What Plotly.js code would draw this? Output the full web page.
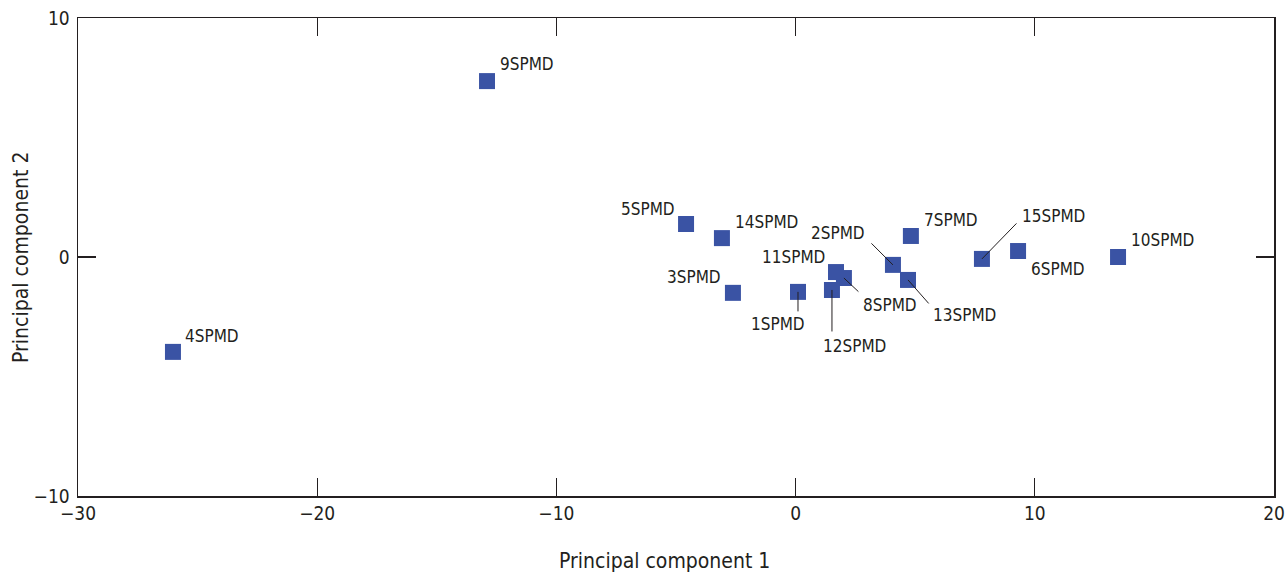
<!DOCTYPE html>
<html>
<head>
<meta charset="utf-8">
<script src="https://cdn.plot.ly/plotly-3.0.1.min.js"></script>
<style>html,body{margin:0;padding:0;background:#fff;}#chart{width:1288px;height:573px;}</style>
</head>
<body>
<div id="chart"></div>
<script>
// Data
const sites = ['1SPMD','2SPMD','3SPMD','4SPMD','5SPMD','6SPMD','7SPMD','8SPMD','9SPMD','10SPMD','11SPMD','12SPMD','13SPMD','14SPMD','15SPMD'];
const pc1 = [0.1, 4.07, -2.62, -26.03, -4.58, 9.3, 4.82, 2.02, -12.9, 13.48, 1.69, 1.52, 4.7, -3.08, 7.79];
const pc2 = [-1.46, -0.33, -1.5, -3.97, 1.38, 0.25, 0.88, -0.88, 7.36, 0.0, -0.63, -1.38, -0.96, 0.79, -0.08];
const xTicks = [-30, -20, -10, 0, 10, 20];
const yTicks = [-10, 0, 10];
const xTitle = 'Principal component 1';
const yTitle = 'Principal component 2';

// Label placement (pixels): xanchor, xshift, yshift, optional leader line [ax, ay]
const labelStyle = {
  '1SPMD':  {anchor:'center', dx:-20, dy:-32, line:[0, 21]},
  '2SPMD':  {anchor:'right',  dx:-26, dy:32,  line:[-23, -23]},
  '3SPMD':  {anchor:'right',  dx:-10, dy:16},
  '4SPMD':  {anchor:'left',   dx:10,  dy:16},
  '5SPMD':  {anchor:'right',  dx:-9,  dy:15},
  '6SPMD':  {anchor:'left',   dx:11,  dy:-18},
  '7SPMD':  {anchor:'left',   dx:11,  dy:16},
  '8SPMD':  {anchor:'center', dx:46,  dy:-27, line:[16, 15]},
  '9SPMD':  {anchor:'left',   dx:11,  dy:17},
  '10SPMD': {anchor:'left',   dx:11,  dy:17},
  '11SPMD': {anchor:'right',  dx:-9,  dy:15},
  '12SPMD': {anchor:'center', dx:23,  dy:-56, line:[0, 43]},
  '13SPMD': {anchor:'center', dx:56,  dy:-35, line:[22, 25]},
  '14SPMD': {anchor:'left',   dx:11,  dy:16},
  '15SPMD': {anchor:'left',   dx:38,  dy:43,  line:[36, -37]}
};

const FONT = '"Liberation Sans Narrow", "Arial Narrow", "DejaVu Sans Condensed", sans-serif';
const INK = '#231f20';

const annotations = [];
sites.forEach((s, i) => {
  const st = labelStyle[s];
  if (st.line) {
    annotations.push({
      x: pc1[i], y: pc2[i], xref:'x', yref:'y', text:'',
      showarrow:true, arrowhead:0, arrowwidth:1, arrowcolor:INK,
      ax: st.line[0], ay: st.line[1], standoff:0
    });
  }
  annotations.push({
    x: pc1[i], y: pc2[i], xref:'x', yref:'y', text:s,
    showarrow:false, xanchor:st.anchor, yanchor:'middle',
    xshift:st.dx, yshift:st.dy,
    font:{family:FONT, size:17, color:INK}
  });
});

// Axis titles, placed as in the original
annotations.push({
  xref:'paper', yref:'paper', x:0.49, y:-0.136, xanchor:'center', yanchor:'middle',
  text:xTitle, showarrow:false, font:{family:FONT, size:21, color:INK}
});
annotations.push({
  xref:'paper', yref:'paper', x:-0.0477, y:0.5, xanchor:'center', yanchor:'middle',
  text:yTitle, textangle:-90, showarrow:false, font:{family:FONT, size:21, color:INK}
});

const trace = {
  x: pc1, y: pc2, text: sites, type:'scatter', mode:'markers',
  marker:{symbol:'square', size:16, color:'#3a53a4'},
  hoverinfo:'text', cliponaxis:false
};

const axisCommon = {
  showgrid:false, zeroline:false, showline:true, linecolor:INK, linewidth:1.5,
  mirror:'ticks', ticks:'inside', ticklen:18, tickwidth:1.2, tickcolor:INK,
  tickfont:{family:FONT, size:19, color:INK}, fixedrange:true
};

const layout = {
  width:1288, height:573,
  margin:{l:78, r:14, t:18, b:77},
  paper_bgcolor:'#fff', plot_bgcolor:'#fff',
  showlegend:false,
  xaxis: Object.assign({}, axisCommon, {
    range:[-30, 20], tickvals:xTicks
  }),
  yaxis: Object.assign({}, axisCommon, {
    range:[-10, 10], tickvals:yTicks, ticklabelstandoff:3
  }),
  annotations: annotations
};

Plotly.newPlot('chart', [trace], layout, {displayModeBar:false, staticPlot:true});
</script>
</body>
</html>
